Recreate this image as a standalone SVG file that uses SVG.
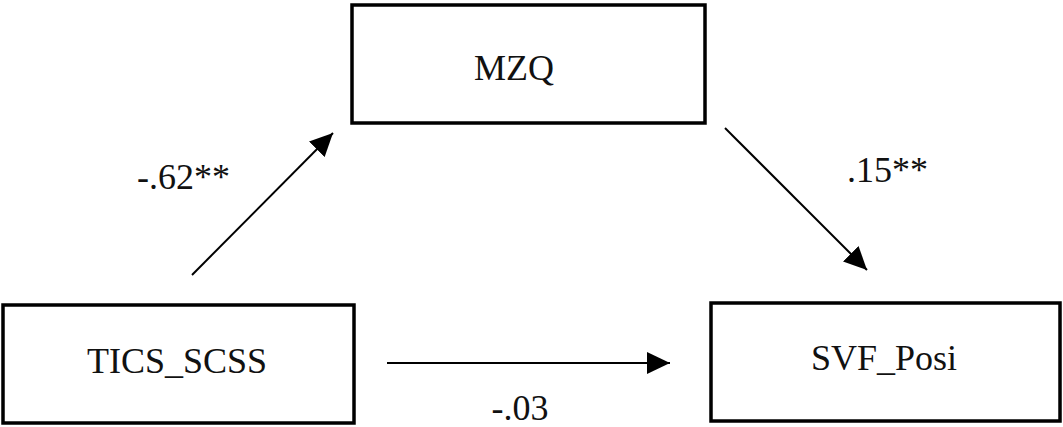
<svg xmlns="http://www.w3.org/2000/svg" width="1063" height="427" viewBox="0 0 1063 427">
<style>
.box{fill:#fff;stroke:#000;stroke-width:3.5}
.t{font-family:"Liberation Serif","Times New Roman",serif;font-size:36px;fill:#111}
.c{stroke:#000;stroke-width:2;fill:none}
</style>
<defs>
<marker id="ah" markerUnits="userSpaceOnUse" markerWidth="24" markerHeight="22" refX="23" refY="11" orient="auto">
<path d="M0,0 L23,11 L0,22 z" fill="#000"/>
</marker>
</defs>
<rect width="1063" height="427" fill="#fff"/>
<g id="node-mzq">
<rect class="box" x="352" y="5" width="353" height="118"/>
<text class="t" x="514" y="80" text-anchor="middle">MZQ</text>
</g>
<g id="node-tics">
<rect class="box" x="3" y="305" width="351" height="118"/>
<text class="t" x="177" y="373" text-anchor="middle">TICS_SCSS</text>
</g>
<g id="node-svf">
<rect class="box" x="711" y="303" width="349" height="118"/>
<text class="t" x="884" y="370" text-anchor="middle">SVF_Posi</text>
</g>
<g id="connectors">
<line class="c" x1="192" y1="275" x2="333" y2="133" marker-end="url(#ah)"/>
<line class="c" x1="725" y1="128" x2="867" y2="270" marker-end="url(#ah)"/>
<line class="c" x1="387" y1="363" x2="670" y2="363" marker-end="url(#ah)"/>
<text class="t" x="137" y="189">-.62**</text>
<text class="t" x="847" y="182">.15**</text>
<text class="t" x="520" y="420" text-anchor="middle">-.03</text>
</g>
</svg>
